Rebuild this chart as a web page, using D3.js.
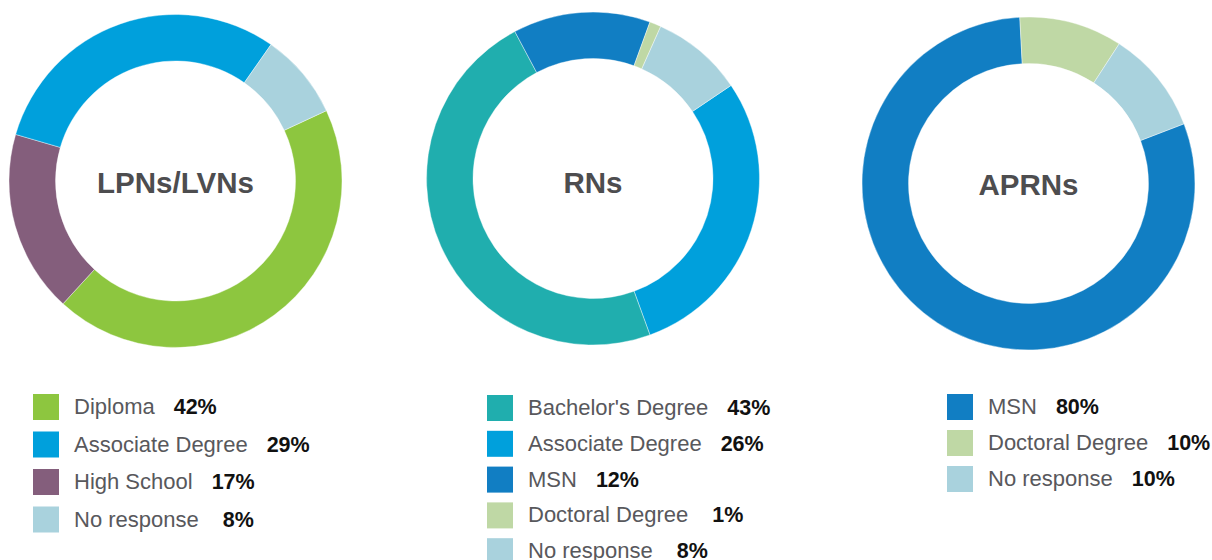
<!DOCTYPE html>
<html>
<head>
<meta charset="utf-8">
<script src="https://cdn.jsdelivr.net/npm/d3@7"></script>
<style>
	body { margin: 0; background: #fff; }
	svg { display: block; font-family: 'Liberation Sans', Arial, sans-serif; }
</style>
</head>
<body>
<svg id="chart" width="1212" height="560"></svg>
<script>
	var titles = ['LPNs/LVNs', 'RNs', 'APRNs'];

	var lpnLabels = ['Diploma', 'Associate Degree', 'High School', 'No response'];
	var lpnValues = [42, 29, 17, 8];

	var rnLabels = ["Bachelor's Degree", 'Associate Degree', 'MSN', 'Doctoral Degree', 'No response'];
	var rnValues = [43, 26, 12, 1, 8];

	var aprnLabels = ['MSN', 'Doctoral Degree', 'No response'];
	var aprnValues = [80, 10, 10];

	// order the slices go round the ring (clockwise), as index into labels
	var ringOrder = [[0, 2, 1, 3], [1, 0, 2, 3, 4], [0, 1, 2]];

	var colorMap = {
		'Diploma': '#8dc63f',
		'Associate Degree': '#00a0dc',
		'High School': '#845e7c',
		'No response': '#a9d2dd',
		"Bachelor's Degree": '#20aeae',
		'MSN': '#117ec3',
		'Doctoral Degree': '#bfd8a5'
	};

	// layout per chart
	var centers = [[175.5, 181], [593, 178.5], [1028.5, 183.5]];
	var titleY = [193, 193, 195];
	var startDeg = [65, 56, 69];
	var legendX = [33, 487, 947];
	var legendTop = [394, 395, 394];
	var legendStep = [37.5, 35.8, 36];
	var outerR = 166.5, innerR = 120;

	var svg = d3.select('#chart');
	var datasets = [
		{labels: lpnLabels, values: lpnValues},
		{labels: rnLabels, values: rnValues},
		{labels: aprnLabels, values: aprnValues}
	];

	var arc = d3.arc().innerRadius(innerR).outerRadius(outerR);

	datasets.forEach(function (ds, ci) {
		var items = ds.labels.map(function (l, i) { return {label: l, value: ds.values[i]}; });
		var ring = ringOrder[ci].map(function (i) { return items[i]; });
		var a0 = startDeg[ci] * Math.PI / 180;

		var pie = d3.pie()
			.sort(null)
			.value(function (d) { return d.value; })
			.startAngle(a0)
			.endAngle(a0 + 2 * Math.PI);

		var g = svg.append('g')
			.attr('transform', 'translate(' + centers[ci][0] + ',' + centers[ci][1] + ')');

		g.selectAll('path')
			.data(pie(ring))
			.enter().append('path')
			.attr('d', arc)
			.attr('fill', function (d) { return colorMap[d.data.label]; })
			.attr('stroke', '#fff')
			.attr('stroke-width', 0.4);

		svg.append('text')
			.attr('x', centers[ci][0])
			.attr('y', titleY[ci])
			.attr('text-anchor', 'middle')
			.attr('font-size', 29.5)
			.attr('font-weight', 'bold')
			.attr('fill', '#4d4d4f')
			.text(titles[ci]);

		// legend
		var lg = svg.append('g');
		items.forEach(function (d, i) {
			var y = legendTop[ci] + i * legendStep[ci];
			lg.append('rect')
				.attr('x', legendX[ci])
				.attr('y', y)
				.attr('width', 26)
				.attr('height', 26)
				.attr('fill', colorMap[d.label]);
			var t = lg.append('text')
				.attr('x', legendX[ci] + 41)
				.attr('y', y + 20)
				.attr('font-size', 21.5);
			t.append('tspan')
				.attr('fill', '#58585c')
				.attr('font-size', 22)
				.text(d.label);
			t.append('tspan')
				.attr('dx', d.value < 10 ? 24 : 19)
				.attr('fill', '#111')
				.attr('font-weight', 'bold')
				.text(d.value + '%');
		});
	});
</script>
</body>
</html>
